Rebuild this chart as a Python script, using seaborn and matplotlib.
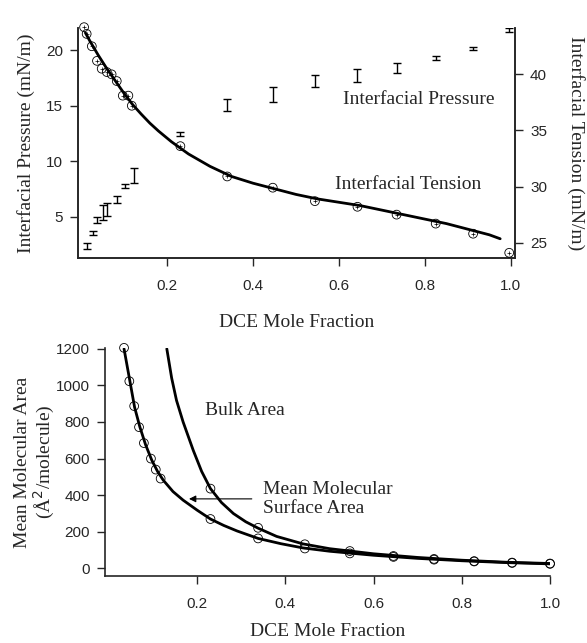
import matplotlib
matplotlib.use("Agg")
import matplotlib.pyplot as plt
import seaborn as sns
import pandas as pd

# --- top panel: interfacial tension (right axis) and pressure (left axis) ---
tension_x = [0.007, 0.013, 0.025, 0.037, 0.048, 0.060, 0.071, 0.083, 0.097, 0.110, 0.118,
             0.231, 0.340, 0.446, 0.544, 0.643, 0.734, 0.825, 0.912, 0.996]
tension_y = [44.2, 43.6, 42.5, 41.2, 40.5, 40.2, 40.0, 39.4, 38.1, 38.1, 37.2,
             33.6, 30.9, 29.9, 28.7, 28.2, 27.5, 26.7, 25.8, 24.1]

tension_fit_x = [0.01, 0.02, 0.04, 0.06, 0.08, 0.10, 0.12, 0.14, 0.16, 0.18, 0.21, 0.25,
                 0.30, 0.35, 0.40, 0.45, 0.50, 0.55, 0.60, 0.65, 0.70, 0.75, 0.80, 0.85,
                 0.90, 0.95, 0.975]
tension_fit_y = [43.7, 43.0, 41.7, 40.5, 39.4, 38.3, 37.3, 36.45, 35.65, 34.95, 34.0, 32.9,
                 31.8, 30.9, 30.3, 29.8, 29.3, 28.9, 28.6, 28.3, 27.9, 27.5, 27.1, 26.7,
                 26.2, 25.7, 25.35]

pressure_x = [0.013, 0.027, 0.038, 0.050, 0.061, 0.083, 0.102, 0.122,
              0.231, 0.340, 0.446, 0.544, 0.643, 0.734, 0.825, 0.912, 0.996]
pressure_y = [2.36, 3.5, 4.75, 5.35, 5.67, 6.57, 7.8, 8.75,
              12.43, 15.1, 16.0, 17.25, 17.75, 18.45, 19.3, 20.15, 21.85]
pressure_err = [0.3, 0.18, 0.27, 0.68, 0.58, 0.33, 0.18, 0.68,
                0.18, 0.53, 0.68, 0.56, 0.6, 0.45, 0.2, 0.12, 0.15]

# --- bottom panel: mean molecular areas ---
surface_x = [0.034, 0.046, 0.057, 0.068, 0.079, 0.095, 0.106, 0.117,
             0.230, 0.338, 0.444, 0.546, 0.645, 0.737, 0.828, 0.914, 1.0]
surface_y = [1205, 1023, 887, 772, 685, 600, 540, 491,
             270, 164, 109, 82, 63, 48, 38, 30, 25]
bulk_x = [0.230, 0.338, 0.444, 0.546, 0.645, 0.737, 0.828, 0.914, 1.0]
bulk_y = [436, 222, 132, 95, 68, 52, 40, 32, 27]

surface_fit_x = [0.034, 0.047, 0.058, 0.070, 0.083, 0.097, 0.110, 0.123, 0.145, 0.168,
                 0.20, 0.23, 0.26, 0.29, 0.338, 0.39, 0.44, 0.50, 0.60, 0.70, 0.80,
                 0.90, 1.0]
surface_fit_y = [1200, 1027, 880, 772, 675, 591, 530, 482, 420, 373,
                 318, 270, 235, 205, 164, 135, 112, 94, 72, 55, 42, 32, 25]
bulk_fit_x = [0.131, 0.142, 0.153, 0.168, 0.191, 0.21, 0.23, 0.255, 0.282, 0.31, 0.338,
              0.38, 0.44, 0.50, 0.60, 0.70, 0.80, 0.90, 1.0]
bulk_fit_y = [1200, 1040, 918, 800, 645, 530, 436, 360, 300, 255, 220,
              175, 134, 108, 80, 60, 45, 34, 27]

sns.set_style("ticks")
plt.rcParams['font.family'] = ['Liberation Sans', 'DejaVu Sans']
serif = ['Liberation Serif', 'DejaVu Serif']
LAB = 14
TXT = 14
TICK = 11

fig = plt.figure(figsize=(5.87, 6.43), dpi=100)

# ---------------- top ----------------
ax1 = fig.add_axes([0.133, 0.599, 0.744, 0.357])
ax1.errorbar(pressure_x, pressure_y, yerr=pressure_err, fmt='none', ecolor='black',
             elinewidth=1.0, capsize=3, capthick=1.0)
ax1.set_xlim(-0.007, 1.009)
ax1.set_ylim(1.3, 22.0)
ax1.set_xticks([0.2, 0.4, 0.6, 0.8, 1.0])
ax1.set_yticks([5, 10, 15, 20])
ax1.set_xlabel("DCE Mole Fraction", family=serif, fontsize=LAB, labelpad=15)
ax1.set_ylabel("Interfacial Pressure (mN/m)", family=serif, fontsize=LAB, labelpad=8)
ax1.spines['top'].set_visible(False)

ax2 = ax1.twinx()
df_t = pd.DataFrame({'x': tension_x, 'y': tension_y})
df_tf = pd.DataFrame({'x': tension_fit_x, 'y': tension_fit_y})
sns.lineplot(data=df_tf, x='x', y='y', ax=ax2, color='black', lw=2.0, sort=False)
sns.scatterplot(data=df_t, x='x', y='y', ax=ax2, marker='o', s=40, facecolor='none',
                edgecolor='black', linewidth=0.6, zorder=5, clip_on=False)
sns.scatterplot(data=df_t, x='x', y='y', ax=ax2, marker='+', s=6, color='black',
                linewidth=0.5, zorder=6, clip_on=False)
ax2.set_ylim(23.65, 44.1)
ax2.set_yticks([25, 30, 35, 40])
ax2.set_xlabel("")
ax2.set_ylabel("Interfacial Tension (mN/m)", family=serif, fontsize=LAB, rotation=270,
               labelpad=27)
ax2.spines['top'].set_visible(False)
ax2.text(0.609, 37.8, "Interfacial Pressure", family=serif, fontsize=TXT, va='center')
ax2.text(0.591, 30.2, "Interfacial Tension", family=serif, fontsize=TXT, va='center')

for a in (ax1, ax2):
    a.tick_params(labelsize=TICK, length=6, width=1.0, direction='out', pad=5)
    for sp in a.spines.values():
        sp.set_linewidth(1.2)
ax1.tick_params(axis='x', pad=9)

# ---------------- bottom ----------------
ax3 = fig.add_axes([0.179, 0.104, 0.758, 0.355])
df_sf = pd.DataFrame({'x': surface_fit_x, 'y': surface_fit_y})
df_bf = pd.DataFrame({'x': bulk_fit_x, 'y': bulk_fit_y})
sns.lineplot(data=df_sf, x='x', y='y', ax=ax3, color='black', lw=2.0, sort=False)
sns.lineplot(data=df_bf, x='x', y='y', ax=ax3, color='black', lw=2.0, sort=False)
for xs, ys in ((surface_x, surface_y), (bulk_x, bulk_y)):
    d = pd.DataFrame({'x': xs, 'y': ys})
    sns.scatterplot(data=d, x='x', y='y', ax=ax3, marker='o', s=40, facecolor='none',
                    edgecolor='black', linewidth=0.6, zorder=5, clip_on=False)
ax3.set_xlim(-0.009, 1.0)
ax3.set_ylim(-42, 1205)
ax3.set_xticks([0.2, 0.4, 0.6, 0.8, 1.0])
ax3.set_yticks([0, 200, 400, 600, 800, 1000, 1200])
ax3.set_xlabel("DCE Mole Fraction", family=serif, fontsize=LAB, labelpad=9)
ax3.set_ylabel("Mean Molecular Area\n(Å$^2$/molecule)", family=serif, fontsize=LAB,
               labelpad=-1, linespacing=1.05)
sns.despine(ax=ax3)
ax3.tick_params(labelsize=TICK, length=6, width=1.0, direction='out', pad=5)
ax3.tick_params(axis='x', pad=9)
for sp in ax3.spines.values():
    sp.set_linewidth(1.2)
ax3.text(0.218, 865, "Bulk Area", family=serif, fontsize=TXT, va='center')
ax3.text(0.35, 380, "Mean Molecular\nSurface Area", family=serif, fontsize=TXT,
         va='center', linespacing=1.1)
ax3.annotate("", xy=(0.175, 380), xytext=(0.33, 380),
             arrowprops=dict(arrowstyle='-|>', color='black', lw=0.8, mutation_scale=10))

fig.savefig("out.png", dpi=100)
